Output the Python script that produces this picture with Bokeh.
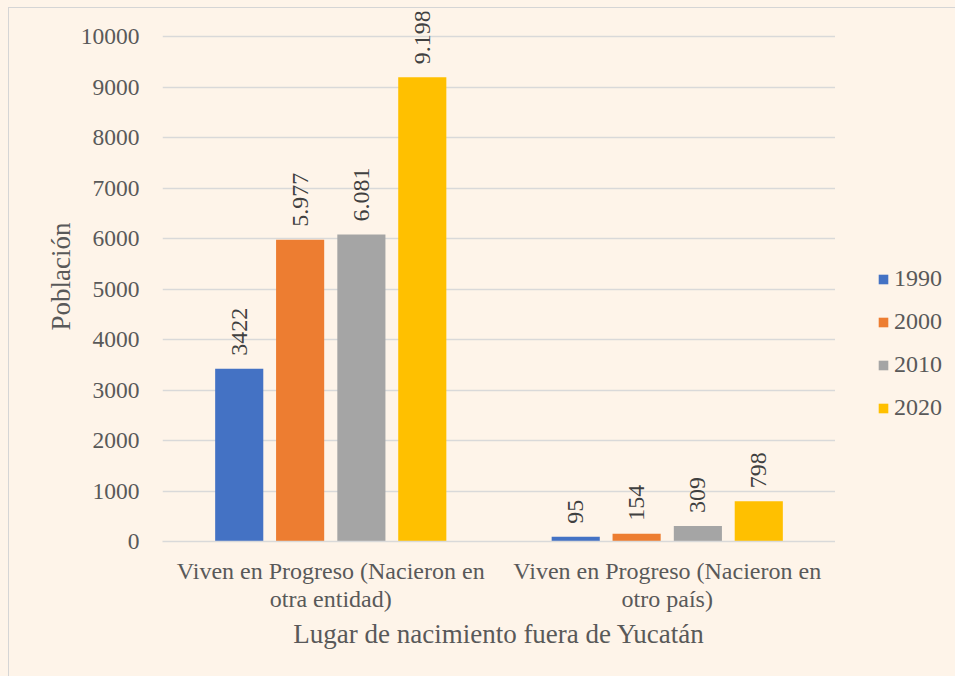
from math import pi
from bokeh.plotting import figure
from bokeh.layouts import column, row
from bokeh.models import Range1d, FactorRange, ColumnDataSource, Legend, LegendItem, FixedTicker
from bokeh.transform import dodge
from bokeh.core.properties import value
from bokeh.embed import file_html
from bokeh.resources import INLINE

categories = ["Viven en Progreso (Nacieron en\notra entidad)",
              "Viven en Progreso (Nacieron en\notro país)"]
years = ["1990", "2000", "2010", "2020"]
v1990 = [3422, 95]
v2000 = [5977, 154]
v2010 = [6081, 309]
v2020 = [9198, 798]
lbl1990 = ["3422", "95"]
lbl2000 = ["5.977", "154"]
lbl2010 = ["6.081", "309"]
lbl2020 = ["9.198", "798"]
y_ticks = [0, 1000, 2000, 3000, 4000, 5000, 6000, 7000, 8000, 9000, 10000]

colors = ["#4472C4", "#ED7D31", "#A5A5A5", "#FFC000"]
BG = "#FEF4E9"
FONT = "Liberation Serif"
TXT = "#595959"

p = figure(width=826, height=668, x_range=FactorRange(*categories),
           y_range=Range1d(0, 10500), output_backend="svg", toolbar_location=None,
           background_fill_color=BG, border_fill_color=BG,
           min_border_left=153, min_border_right=0, min_border_top=3,
           min_border_bottom=135)
p.outline_line_color = None

# legend panel: same data series, bars of zero width (only the legend shows)
p2 = figure(width=120, height=668, x_range=p.x_range, y_range=Range1d(0, 10500),
            output_backend="svg", toolbar_location=None,
            x_axis_location=None, y_axis_location=None,
            background_fill_color=BG, border_fill_color=BG,
            min_border_left=0, min_border_right=0, min_border_top=0, min_border_bottom=0)
p2.outline_line_color = None
p2.grid.visible = False

series = [v1990, v2000, v2010, v2020]
labels = [lbl1990, lbl2000, lbl2010, lbl2020]
offsets = [-0.272, -0.091, 0.091, 0.272]
items = []
for yr, vals, lbls, off, c in zip(years, series, labels, offsets, colors):
    src = ColumnDataSource(dict(cat=categories, val=vals, lbl=lbls))
    p.vbar(x=dodge("cat", off, range=p.x_range), top="val", width=0.143,
           source=src, fill_color=c, line_color=None)
    p.text(x=dodge("cat", off, range=p.x_range), y="val", text="lbl", source=src,
           angle=pi / 2, text_align="left", text_baseline="middle", y_offset=-13,
           text_font=value(FONT), text_font_size="24px", text_color="#404040")
    r2 = p2.vbar(x=dodge("cat", off, range=p.x_range), top="val", width=0,
                 source=src, fill_color=c, line_color=None)
    items.append(LegendItem(label=yr, renderers=[r2]))

legend = Legend(items=items, location=(42, 120), background_fill_alpha=0,
                border_line_color=None, label_text_font=FONT,
                label_text_font_size="24px", label_text_color=TXT,
                glyph_width=12, glyph_height=12, label_height=24, spacing=16,
                padding=0, margin=0, label_standoff=5)
p2.add_layout(legend, "center")

p.ygrid.grid_line_color = "#d9d9d9"
p.ygrid.grid_line_width = 1.5
p.xgrid.grid_line_color = None

p.yaxis.ticker = FixedTicker(ticks=y_ticks)
p.yaxis.axis_line_color = None
p.yaxis.major_tick_line_color = None
p.yaxis.minor_tick_line_color = None
p.yaxis.major_label_text_font = FONT
p.yaxis.major_label_text_font_size = "23.5px"
p.yaxis.major_label_text_color = TXT
p.yaxis.major_label_standoff = 17
p.yaxis.axis_label = "Población"
p.yaxis.axis_label_text_font = FONT
p.yaxis.axis_label_text_font_size = "27px"
p.yaxis.axis_label_text_font_style = "normal"
p.yaxis.axis_label_text_color = TXT
p.yaxis.axis_label_standoff = 2

p.xaxis.axis_line_color = "#d9d9d9"
p.xaxis.axis_line_width = 1.5
p.xaxis.major_tick_line_color = None
p.xaxis.minor_tick_line_color = None
p.xaxis.major_label_text_font = FONT
p.xaxis.major_label_text_font_size = "24px"
p.xaxis.major_label_text_line_height = 1.1
p.xaxis.major_label_text_color = TXT
p.xaxis.major_label_standoff = 10
p.xaxis.axis_label = "Lugar de nacimiento fuera de Yucatán"
p.xaxis.axis_label_text_font = FONT
p.xaxis.axis_label_text_font_size = "27px"
p.xaxis.axis_label_text_font_style = "normal"
p.xaxis.axis_label_text_color = TXT
p.xaxis.axis_label_standoff = 4

inner = row(p, p2, styles={"border-left": "1px solid #d5d5d5",
                           "border-top": "1px solid #d5d5d5"})
layout = column(inner, styles={"background-color": BG, "padding": "7px 0 0 8px"})

open("out.html", "w").write(file_html(layout, INLINE))
